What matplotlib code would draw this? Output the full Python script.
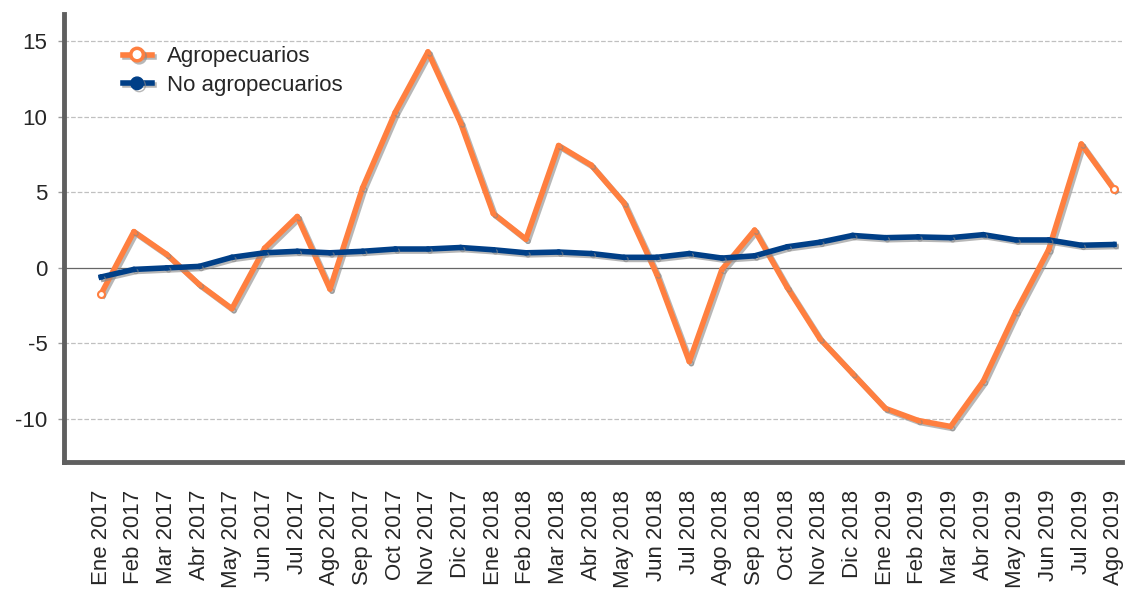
import matplotlib.pyplot as plt
import matplotlib.patheffects as pe
from matplotlib.lines import Line2D

meses = ['Ene', 'Feb', 'Mar', 'Abr', 'May', 'Jun', 'Jul', 'Ago', 'Sep', 'Oct', 'Nov', 'Dic']
labels = [f'{m} {y}' for y in (2017, 2018, 2019) for m in meses][:32]

agro = [-1.7, 2.4, 0.9, -1.1, -2.7, 1.3, 3.4, -1.4, 5.3, 10.3, 14.3, 9.6,
        3.6, 1.9, 8.1, 6.8, 4.3, -0.4, -6.2, -0.1, 2.5, -1.3, -4.7, -7.0,
        -9.3, -10.1, -10.5, -7.5, -2.9, 1.2, 8.2, 5.2]
no_agro = [-0.6, -0.1, 0.0, 0.1, 0.7, 1.0, 1.1, 1.0, 1.1, 1.25, 1.25, 1.35,
           1.2, 1.0, 1.05, 0.95, 0.7, 0.7, 0.95, 0.65, 0.8, 1.4, 1.7, 2.15,
           2.0, 2.05, 2.0, 2.2, 1.85, 1.85, 1.5, 1.55]

NARANJA = '#FF7F3F'
AZUL = '#003F87'

plt.rcParams['font.family'] = ['Liberation Sans', 'DejaVu Sans']

fig = plt.figure(figsize=(11.39, 5.90), dpi=100)
ax = fig.add_axes([0.0562, 0.217, 0.929, 0.759])

shadow = [pe.SimpleLineShadow(offset=(1.5, -1.5), shadow_color='#888888', alpha=0.6), pe.Normal()]
x = list(range(len(labels)))
ax.plot(x, agro, color=NARANJA, lw=4, marker='o', ms=3, mfc=NARANJA, mec=NARANJA,
        path_effects=shadow, zorder=3)
# first and last points are drawn hollow
ax.plot(x, agro, ls='none', marker='o', ms=5, mfc='white', mec=NARANJA, mew=1.5,
        markevery=[0, len(x) - 1], zorder=5)
ax.plot(x, no_agro, color=AZUL, lw=4, marker='o', ms=3, mfc=AZUL, mec=AZUL,
        path_effects=shadow, zorder=4)

ax.set_ylim(-12.85, 16.8)
ax.set_xlim(-1.14, len(labels) - 1 + 0.25)
ax.set_yticks([-10, -5, 0, 5, 10, 15])
ax.set_yticklabels(['-10', '-5', '0', '5', '10', '15'])
ax.set_xticks(x)
ax.set_xticklabels(labels, rotation=90)
ax.tick_params(axis='both', labelsize=16, colors='#262626')
ax.tick_params(axis='x', length=0, pad=20)
ax.tick_params(axis='y', length=4, width=1, color='#999999', pad=8)

for v in [-10, -5, 5, 10, 15]:
    ax.axhline(v, color='#c0c0c0', lw=0.9, ls='--', zorder=1)
ax.axhline(0, color='#666666', lw=0.9, zorder=1)

for s in ['top', 'right']:
    ax.spines[s].set_visible(False)
for s in ['left', 'bottom']:
    ax.spines[s].set_color('#5f5f5f')
    ax.spines[s].set_linewidth(3.5)

handles = [
    Line2D([], [], color=NARANJA, lw=4, marker='o', ms=9, mfc='white', mec=NARANJA, mew=2.5,
           path_effects=shadow),
    Line2D([], [], color=AZUL, lw=4, marker='o', ms=9, mfc=AZUL, mec=AZUL, path_effects=shadow),
]
ax.legend(handles, ['Agropecuarios', 'No agropecuarios'], loc='upper left',
          bbox_to_anchor=(0.047, 0.948), frameon=False, fontsize=16,
          handlelength=1.3, handletextpad=0.7, labelspacing=0.35, borderaxespad=0,
          labelcolor='#262626')

plt.savefig('out.png', dpi=100)
